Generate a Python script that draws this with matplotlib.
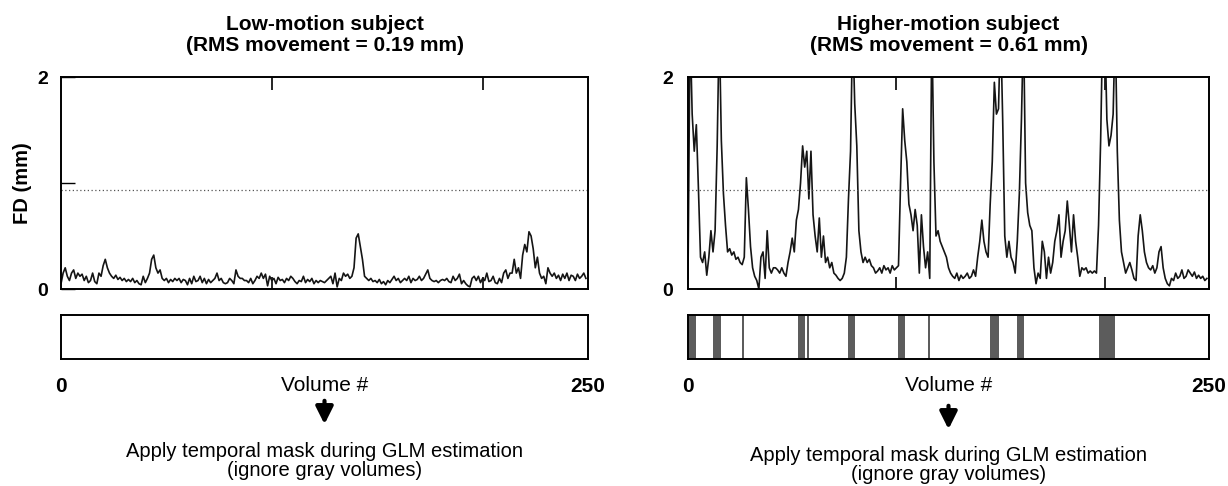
import matplotlib.pyplot as plt
import numpy as np
from matplotlib.patches import FancyArrowPatch

plt.rcParams['font.family'] = ['Liberation Sans', 'DejaVu Sans']

# FD trace, low-motion subject (mm), volumes 0..249
fd_low = [
    0.05, 0.15, 0.2, 0.12, 0.08, 0.15, 0.18, 0.1, 0.15, 0.12,
    0.14, 0.08, 0.12, 0.06, 0.08, 0.15, 0.07, 0.05, 0.15, 0.12,
    0.22, 0.28, 0.2, 0.15, 0.12, 0.1, 0.13, 0.09, 0.11, 0.08,
    0.1, 0.07, 0.09, 0.07, 0.1, 0.06, 0.08, 0.05, 0.04, 0.12,
    0.06, 0.1, 0.15, 0.28, 0.32, 0.2, 0.15, 0.18, 0.1, 0.08,
    0.1, 0.06, 0.09, 0.07, 0.1, 0.08, 0.1, 0.06, 0.09, 0.08,
    0.04, 0.1, 0.05, 0.12, 0.07, 0.08, 0.12, 0.06, 0.1, 0.05,
    0.09, 0.06, 0.08, 0.1, 0.15, 0.08, 0.1, 0.06, 0.05, 0.06,
    0.1, 0.08, 0.05, 0.18, 0.12, 0.1, 0.1, 0.08, 0.08, 0.06,
    0.1, 0.05, 0.08, 0.12, 0.1, 0.15, 0.1, 0.14, 0.03, 0.12,
    0.08, 0.1, 0.05, 0.11, 0.08, 0.09, 0.06, 0.1, 0.08, 0.12,
    0.1, 0.07, 0.05, 0.08, 0.07, 0.12, 0.06, 0.09, 0.07, 0.1,
    0.05, 0.08, 0.06, 0.08, 0.07, 0.06, 0.08, 0.1, 0.12, 0.05,
    0.15, 0.02, 0.1, 0.08, 0.15, 0.12, 0.14, 0.1, 0.12, 0.2,
    0.48, 0.52, 0.4, 0.28, 0.12, 0.1, 0.08, 0.1, 0.07, 0.08,
    0.06, 0.09, 0.05, 0.07, 0.04, 0.08, 0.06, 0.09, 0.12, 0.08,
    0.1, 0.06, 0.08, 0.1, 0.08, 0.12, 0.06, 0.1, 0.08, 0.09,
    0.12, 0.08, 0.1, 0.14, 0.18, 0.1, 0.08, 0.07, 0.08, 0.06,
    0.08, 0.09, 0.08, 0.1, 0.07, 0.06, 0.12, 0.08, 0.1, 0.14,
    0.05, 0.08, 0.05, 0.03, 0.02, 0.1, 0.12, 0.08, 0.12, 0.06,
    0.1, 0.08, 0.15, 0.07, 0.08, 0.12, 0.06, 0.05, 0.1, 0.06,
    0.15, 0.18, 0.1, 0.15, 0.15, 0.28, 0.15, 0.2, 0.1, 0.32,
    0.42, 0.35, 0.54, 0.5, 0.38, 0.2, 0.3, 0.15, 0.1, 0.12,
    0.05, 0.2, 0.15, 0.12, 0.15, 0.1, 0.13, 0.08, 0.14, 0.1,
    0.15, 0.08, 0.13, 0.12, 0.08, 0.14, 0.1, 0.12, 0.15, 0.1,
]

# FD trace, higher-motion subject (mm); values above 2 are clipped by the axis
fd_high = [
    0.1, 2.5, 1.65, 1.3, 1.55, 0.95, 0.3, 0.25, 0.35, 0.13,
    0.3, 0.55, 0.35, 0.55, 1.35, 2.5, 1.4, 0.9, 0.6, 0.35,
    0.38, 0.32, 0.35, 0.28, 0.3, 0.25, 0.23, 0.3, 1.05, 0.75,
    0.4, 0.2, 0.12, 0.08, 0.0, 0.3, 0.35, 0.1, 0.55, 0.2,
    0.15, 0.2, 0.2, 0.18, 0.15, 0.2, 0.15, 0.12, 0.25, 0.35,
    0.48, 0.35, 0.65, 0.75, 1.0, 1.35, 1.15, 1.3, 0.85, 1.3,
    0.7, 0.5, 0.35, 0.67, 0.3, 0.5, 0.25, 0.3, 0.2, 0.25,
    0.15, 0.13, 0.1, 0.08, 0.1, 0.15, 0.3, 0.85, 1.3, 2.5,
    1.75, 1.35, 0.55, 0.35, 0.25, 0.3, 0.25, 0.28, 0.22, 0.2,
    0.15, 0.17, 0.2, 0.15, 0.22, 0.18, 0.2, 0.15, 0.22, 0.18,
    0.2, 0.22, 1.0, 1.7, 1.4, 1.2, 0.8, 0.7, 0.55, 0.75,
    0.6, 0.15, 0.7, 0.4, 0.2, 0.35, 0.1, 2.5, 1.2, 0.5,
    0.55, 0.45, 0.4, 0.35, 0.3, 0.2, 0.15, 0.12, 0.1, 0.15,
    0.08, 0.13, 0.1, 0.12, 0.15, 0.1, 0.12, 0.18, 0.12, 0.3,
    0.45, 0.65, 0.45, 0.35, 0.3, 0.8, 1.2, 1.95, 1.65, 1.7,
    2.5, 1.6, 0.5, 0.3, 0.45, 0.3, 0.25, 0.15, 0.45, 0.9,
    1.6, 2.5, 1.0, 0.72, 0.6, 0.55, 0.2, 0.05, 0.15, 0.1,
    0.45, 0.35, 0.1, 0.3, 0.15, 0.25, 0.45, 0.55, 0.7, 0.3,
    0.45, 0.55, 0.83, 0.6, 0.35, 0.7, 0.45, 0.3, 0.12, 0.2,
    0.18, 0.2, 0.15, 0.17, 0.15, 0.17, 0.15, 0.6, 1.4, 2.5,
    2.5, 1.6, 1.35, 1.45, 1.65, 2.5, 1.3, 0.65, 0.35, 0.25,
    0.15, 0.2, 0.25, 0.18, 0.1, 0.08, 0.5, 0.7, 0.55, 0.35,
    0.25, 0.2, 0.18, 0.22, 0.15, 0.2, 0.35, 0.4, 0.2, 0.1,
    0.05, 0.03, 0.1, 0.08, 0.15, 0.1, 0.12, 0.18, 0.1, 0.12,
    0.18, 0.15, 0.12, 0.16, 0.1, 0.13, 0.1, 0.12, 0.08, 0.1,
]

# volumes removed by the temporal mask (gray bands)
masked_low = []
masked_high = [0, 1, 2, 3, 12, 13, 14, 15, 26, 53, 54, 55, 57, 77, 78, 79,
               101, 102, 103, 115, 145, 146, 147, 148, 158, 159, 160,
               197, 198, 199, 200, 201, 202, 203, 204]

threshold = 0.93
titles = ["Low-motion subject\n(RMS movement = 0.19 mm)",
          "Higher-motion subject\n(RMS movement = 0.61 mm)"]
note = "Apply temporal mask during GLM estimation\n(ignore gray volumes)"

W, H = 1228, 486
fig = plt.figure(figsize=(W / 100, H / 100), dpi=100)


def px_box(x0, y0, x1, y1):
    # pixel box (top-left origin) -> figure fraction rect
    return [x0 / W, 1 - y1 / H, (x1 - x0) / W, (y1 - y0) / H]


panels = [
    dict(fd=fd_low, mask=masked_low, x0=61, x1=588, title=titles[0], note_y=461, arrow=(398, 427), ylabel=True),
    dict(fd=fd_high, mask=masked_high, x0=688, x1=1209, title=titles[1], note_y=465, arrow=(403, 432), ylabel=False),
]

vol = np.arange(250)
for p in panels:
    ax = fig.add_axes(px_box(p['x0'], 77, p['x1'], 289))
    ax.plot(vol, p['fd'], color='#151515', lw=1.2)
    ax.axhline(threshold, color='#555555', lw=0.9, ls=(0, (1, 2)))
    ax.set_xlim(0, 250)
    ax.set_ylim(0, 2)
    ax.set_xticks([100, 200])
    ax.set_xticklabels([])
    ax.tick_params(axis='x', direction='in', length=9, width=1.2, top=True, bottom=True)
    if p['ylabel']:
        ax.set_yticks([0, 1, 2])
        ax.set_yticklabels(['0', '', '2'], fontsize=14, fontweight='bold')
        ax.tick_params(axis='y', direction='in', length=10, width=1.0, pad=9)
        ax.set_ylabel('FD (mm)', fontsize=14.5, fontweight='bold', labelpad=4)
    else:
        ax.set_yticks([0, 2])
        ax.set_yticklabels(['0', '2'], fontsize=14, fontweight='bold')
        ax.tick_params(axis='y', length=0, pad=11)
    for s in ax.spines.values():
        s.set_linewidth(1.4)

    cx = (p['x0'] + p['x1']) / 2
    fig.text(cx / W, 1 - 35 / H, p['title'], ha='center', va='center',
             fontsize=15, fontweight='bold', linespacing=1.1)

    # mask strip
    mx = fig.add_axes(px_box(p['x0'], 315, p['x1'], 359))
    if p['mask']:
        mx.bar(p['mask'], 1, width=1, align='edge', color='#5c5c5c', edgecolor='none')
    mx.set_xlim(0, 250)
    mx.set_ylim(0, 1)
    mx.set_yticks([])
    mx.set_xticks([0, 250])
    mx.set_xticklabels(['0', '250'], fontsize=15, fontweight='bold')
    mx.tick_params(axis='x', length=0, pad=13)
    for s in mx.spines.values():
        s.set_linewidth(1.4)

    fig.text(cx / W, 1 - 385 / H, 'Volume #', ha='center', va='center', fontsize=15)
    a0, a1 = p['arrow']
    fig.add_artist(FancyArrowPatch((cx, H - a0), (cx, H - a1), transform=None,
                                   arrowstyle='-|>', mutation_scale=26, lw=3, color='black'))
    fig.text(cx / W, 1 - p['note_y'] / H, note, ha='center', va='center',
             fontsize=14.5, linespacing=1.05)

fig.savefig('out.png', dpi=100)
